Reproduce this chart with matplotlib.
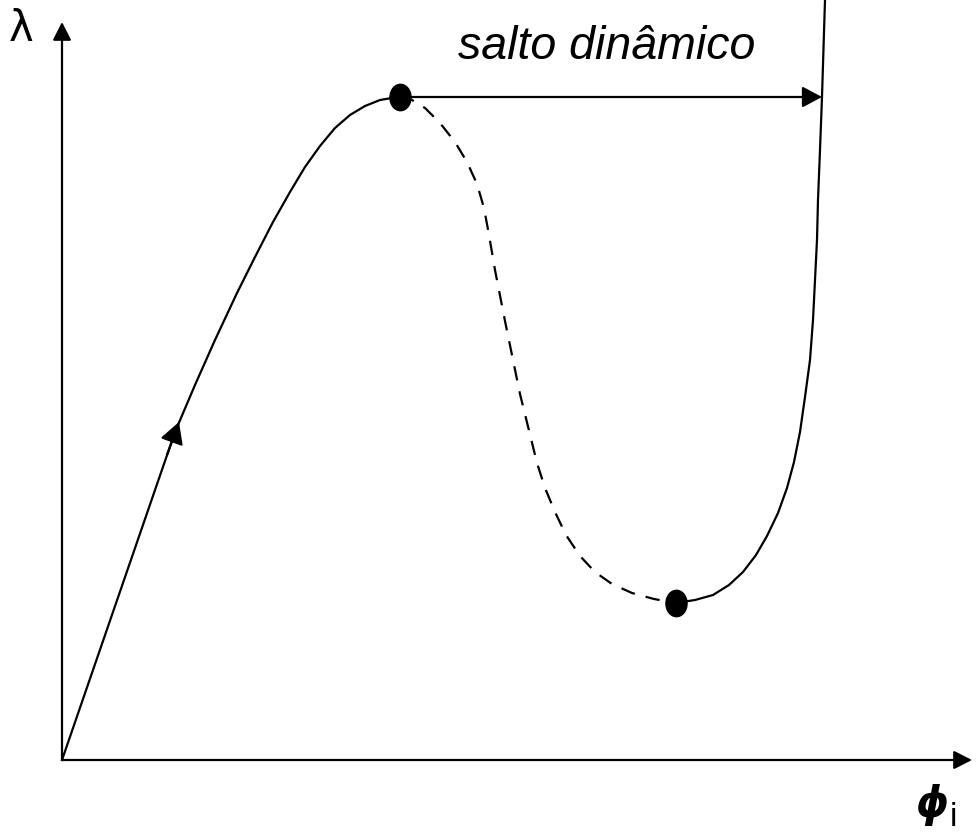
import numpy as np
import matplotlib.pyplot as plt
from matplotlib.markers import MarkerStyle
from matplotlib.transforms import Affine2D

# stable rising branch (phi, lambda)
phi_up = [0.00, 1.13, 1.33, 1.53, 1.75, 1.93, 2.11, 2.28, 2.43, 2.58,
          2.73, 2.88, 3.03, 3.18, 3.30, 3.38]
lam_up = [0.00, 3.28, 3.75, 4.20, 4.67, 5.03, 5.38, 5.68, 5.93, 6.14,
          6.32, 6.45, 6.54, 6.60, 6.62, 6.63]

# unstable branch (dashed)
phi_mid = [3.38, 3.50, 3.63, 3.78, 3.93, 4.05, 4.15, 4.22, 4.27, 4.33,
           4.43, 4.58, 4.75, 4.83, 4.93, 5.04, 5.18, 5.33, 5.50, 5.70,
           5.92, 6.14]
lam_mid = [6.63, 6.60, 6.52, 6.37, 6.18, 5.98, 5.76, 5.52, 5.25, 4.90,
           4.39, 3.66, 2.97, 2.72, 2.48, 2.25, 2.04, 1.88, 1.76, 1.67,
           1.61, 1.57]

# second stable branch
phi_dn = [6.14, 6.33, 6.51, 6.67, 6.81, 6.94, 7.05, 7.16, 7.25, 7.32,
          7.38, 7.43, 7.48, 7.51, 7.53, 7.55, 7.56, 7.58, 7.60, 7.63]
lam_dn = [1.57, 1.60, 1.65, 1.75, 1.88, 2.05, 2.24, 2.47, 2.72, 2.98,
          3.28, 3.63, 4.00, 4.40, 4.80, 5.20, 5.60, 6.10, 6.63, 7.60]

# limit points
phi_pts = [3.38, 6.14]
lam_pts = [6.63, 1.57]

fig = plt.figure(figsize=(9.76, 8.32), dpi=100)
ax = fig.add_axes([0, 0, 1, 1])
ax.set_xlim(-0.62, 9.14)
ax.set_ylim(-0.72, 7.60)
ax.axis('off')

lw = 1.6
ax.plot(phi_up, lam_up, color='k', lw=lw, solid_joinstyle='round')
ax.plot(phi_mid, lam_mid, color='k', lw=lw, dashes=(6.5, 5))
ax.plot(phi_dn, lam_dn, color='k', lw=lw, solid_joinstyle='round')

dot = MarkerStyle('o', transform=Affine2D().scale(0.8, 1.0))
ax.plot(phi_pts, lam_pts, ls='none', marker=dot, ms=19, color='k')

# axes with arrows
axprops = dict(arrowstyle='-|>,head_length=0.55,head_width=0.28',
               mutation_scale=20, lw=lw, color='k', shrinkA=0, shrinkB=0)
ax.annotate('', xy=(0, 7.38), xytext=(0, 0), arrowprops=axprops)
ax.annotate('', xy=(9.10, 0), xytext=(0, 0), arrowprops=axprops)

# dynamic jump
jumpprops = dict(arrowstyle='-|>,head_length=0.6,head_width=0.32',
                 mutation_scale=20, lw=lw, color='k', shrinkA=0, shrinkB=0)
ax.annotate('', xy=(7.60, 6.63), xytext=(3.38, 6.63), arrowprops=jumpprops)

# direction arrow on the rising branch
dirprops = dict(arrowstyle='-|>,head_length=0.65,head_width=0.36',
                mutation_scale=20, lw=lw, color='k', shrinkA=0, shrinkB=0)
ax.annotate('', xy=(1.17, 3.38), xytext=(1.05, 3.05), arrowprops=dirprops)

ax.text(5.45, 7.13, 'salto dinâmico', fontsize=33.5, style='italic',
        family='Liberation Sans', ha='center', va='center')
ax.text(-0.41, 7.31, 'λ', fontsize=30, family='DejaVu Sans',
        ha='center', va='center')
ax.text(8.70, -0.45, 'ϕ', fontsize=30, family='DejaVu Sans',
        weight='bold', style='italic', ha='center', va='center')
ax.text(8.91, -0.58, 'i', fontsize=24, family='Liberation Sans',
        ha='center', va='center')

fig.savefig('out.png', dpi=100, facecolor='white')
